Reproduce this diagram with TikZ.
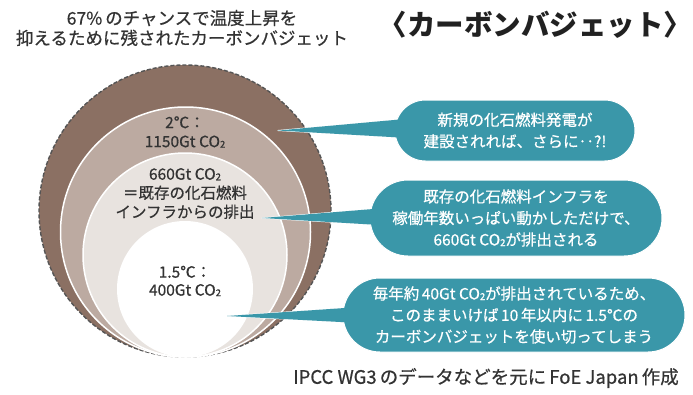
\documentclass[tikz,border=0pt]{standalone}
\usepackage{fontspec}
\setmainfont{Noto Sans CJK JP}[UprightFeatures={FakeBold=0.6}]
\usetikzlibrary{calc}
\definecolor{brownA}{HTML}{8B7063}
\definecolor{brownB}{HTML}{BCAAA1}
\definecolor{brownC}{HTML}{E8E3DF}
\definecolor{tealA}{HTML}{3A97A9}
\definecolor{txt}{HTML}{333333}
\definecolor{rimgray}{HTML}{555555}
\newcommand{\cotwo}{CO\raisebox{-0.6pt}{\fontsize{9.5}{9.5}\selectfont 2}}
\begin{document}
\begin{tikzpicture}[x=1pt,y=-1pt,
  ring/.style={circle, inner sep=0pt, outer sep=0pt},
  lbl/.style={text=txt, align=center, font=\fontsize{15.5}{19}\selectfont},
  bubble/.style={fill=tealA, draw=white, line width=1pt, text=white, align=center,
    inner sep=0pt, font=\fontsize{15.5}{21.5}\selectfont},
  tailw/.style={fill=tealA, draw=white, line width=1pt, line join=round},
  tailf/.style={fill=tealA}]
\useasboundingbox (0,0) rectangle (693,394);

% rings
\node[ring, minimum size=292pt, fill=brownA, draw=rimgray, line width=1.4pt, dash pattern=on 4pt off 2pt] (c1) at (185,211) {};
\node[ring, minimum size=250pt, fill=brownB, draw=white, line width=1.5pt] (c2) at (185.5,232) {};
\node[ring, minimum size=204pt, fill=brownC, draw=white, line width=1.5pt] (c3) at (185,255) {};
\node[ring, minimum size=136pt, fill=white] (c4) at (185,289) {};

% ring labels
\node[lbl] (l2) at (185,132) {2℃：\\1150Gt \cotwo};
\node[lbl] (l660) at (185,193.5) {660Gt \cotwo\\＝既存の化石燃料\\インフラからの排出};
\node[lbl, font=\fontsize{15.5}{18}\selectfont] (l15) at (185,281) {1.5℃：\\400Gt \cotwo};

% titles
\node[text=txt, align=center, font=\fontsize{17.5}{20}\selectfont] (title) at (182,28) {67\%\,のチャンスで温度上昇を\\抑えるために残されたカーボンバジェット};
\node[text=black!87, inner sep=0pt, font=\bfseries\fontsize{28.5}{29}\selectfont] (main) at (535.5,25) {〈カーボンバジェット〉};
\node[text=txt, font=\fontsize{18.5}{18.5}\selectfont] (foot) at (486,378) {IPCC WG3\,のデータなどを元に\,FoE Japan\,作成};

% tail tips
\coordinate (t1) at (278,130.5);
\coordinate (t2) at (262,218);
\coordinate (t3) at (227,316);

% bubble centres
\path (515,130.5) coordinate (p1) (516,218) coordinate (p2) (514,315) coordinate (p3);

% bubble 1
\fill[tailw] (t1) -- ($(p1)+(-115,-11)$) -- ($(p1)+(-115,7)$) -- cycle;
\node[bubble, minimum width=240pt, minimum height=61pt, rounded corners=30.5pt] (b1) at (p1) {新規の化石燃料発電が\\建設されれば、さらに‥?!};
\fill[tailf] (t1) -- ($(b1.west)+(5,-11)$) -- ($(b1.west)+(5,7)$) -- cycle;

% bubble 2
\fill[tailw] (t2) -- ($(p2)+(-136,-9.5)$) -- ($(p2)+(-136,7)$) -- cycle;
\node[bubble, minimum width=292pt, minimum height=76pt, rounded corners=38pt] (b2) at (p2) {既存の化石燃料インフラを\\稼働年数いっぱい動かしただけで、\\660Gt \cotwo が排出される};
\fill[tailf] (t2) -- ($(b2.west)+(10,-9.5)$) -- ($(b2.west)+(10,7)$) -- cycle;

% bubble 3
\fill[tailw] (t3) -- ($(p3)+(-154,-8)$) -- ($(p3)+(-154,8)$) -- cycle;
\node[bubble, minimum width=342pt, minimum height=74pt, rounded corners=37pt] (b3) at (p3) {毎年約\,40Gt \cotwo が排出されているため、\\このままいけば\,10\,年以内に\,1.5℃の\\カーボンバジェットを使い切ってしまう};
\fill[tailf] (t3) -- ($(b3.west)+(17,-8)$) -- ($(b3.west)+(17,8)$) -- cycle;
\end{tikzpicture}
\end{document}
